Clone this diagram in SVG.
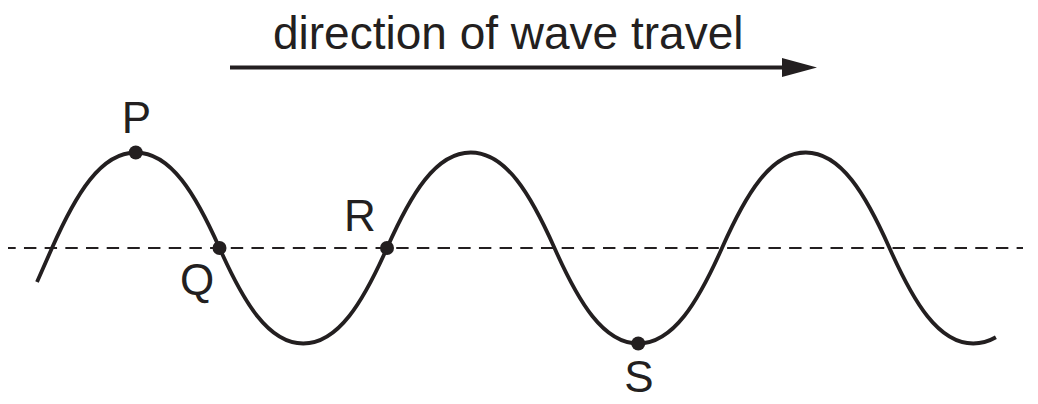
<svg xmlns="http://www.w3.org/2000/svg" width="1038" height="404" viewBox="0 0 1038 404">
  <style>
    .ink { fill: #231f20; }
    .lbl { font-family: "Liberation Sans", Arial, sans-serif; font-size: 44px; fill: #231f20; text-anchor: middle; }
    .title { font-family: "Liberation Sans", Arial, sans-serif; font-size: 46px; fill: #231f20; }
    .wave { fill: none; stroke: #231f20; stroke-width: 3.8; stroke-linecap: butt; }
    .axis { fill: none; stroke: #231f20; stroke-width: 2; stroke-dasharray: 12.4 8.28; stroke-dashoffset: 4.7; }
    .arrow { fill: none; stroke: #231f20; stroke-width: 4; }
  </style>
  <defs>
    <marker id="head" markerUnits="userSpaceOnUse" viewBox="0 0 35 19" markerWidth="35" markerHeight="19" refX="8" refY="9.5" orient="auto">
      <path d="M0,0 L35,9.5 L0,19 z" class="ink"/>
    </marker>
  </defs>

  <rect width="1038" height="404" fill="#ffffff"/>

  <g id="title">
    <text class="title" x="273" y="49">direction of wave travel</text>
  </g>

  <g id="axis">
    <line class="axis" x1="8" y1="248" x2="1023" y2="248"/>
  </g>

  <g id="wave">
    <path class="wave" d="M37,282 Q45,264 52,248
      C76,194 100.75,152.5 135.75,152.5
      C170.75,152.5 195.5,194 219.5,248
      C243.5,302 268.25,343.5 303.25,343.5
      C338.25,343.5 363,302 387,248
      C411,194 435.75,152.5 470.75,152.5
      C505.75,152.5 530.5,194 554.5,248
      C578.5,302 603.25,343.5 638.25,343.5
      C673.25,343.5 698,302 722,248
      C746,194 770.75,152.5 805.75,152.5
      C840.75,152.5 865.5,194 889.5,248
      C913.5,302 938.25,343.5 973.25,343.5
      C981.3,343.5 988.81,341.3 995.89,337.26"/>
  </g>

  <g id="connectors">
    <line class="arrow" x1="230" y1="67.5" x2="790" y2="67.5" marker-end="url(#head)"/>
  </g>

  <g id="point-P">
    <circle class="ink" cx="135.75" cy="152.5" r="7"/>
    <text class="lbl" x="136.5" y="133">P</text>
  </g>
  <g id="point-Q">
    <circle class="ink" cx="219.5" cy="248" r="7"/>
    <text class="lbl" x="197" y="294.5">Q</text>
  </g>
  <g id="point-R">
    <circle class="ink" cx="387" cy="248" r="7"/>
    <text class="lbl" x="360" y="231">R</text>
  </g>
  <g id="point-S">
    <circle class="ink" cx="638.25" cy="343.5" r="7"/>
    <text class="lbl" x="639" y="392">S</text>
  </g>
</svg>
